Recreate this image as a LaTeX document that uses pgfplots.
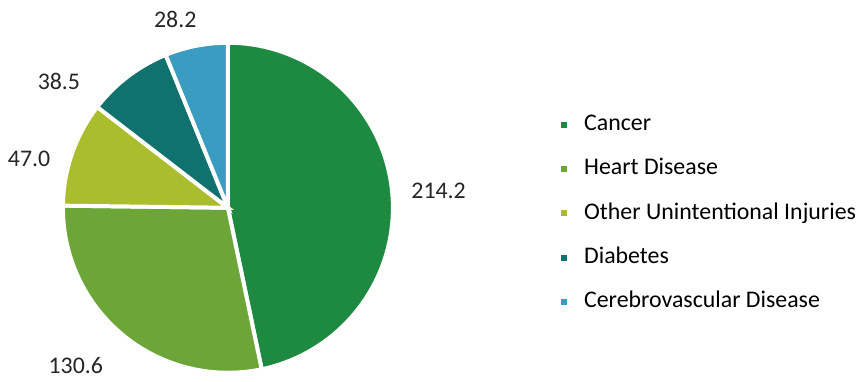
\documentclass[border=0pt]{standalone}
\usepackage{pgfplots}
\pgfplotsset{compat=1.18}
\usepackage{fontspec}
\setmainfont{Carlito}
\definecolor{cCancer}{RGB}{30,137,64}
\definecolor{cHeart}{RGB}{108,166,56}
\definecolor{cOther}{RGB}{170,190,45}
\definecolor{cDiab}{RGB}{16,114,110}
\definecolor{cCere}{RGB}{58,156,192}
\begin{document}
\fontsize{12}{14.4}\selectfont
\begin{tikzpicture}
% data values
\def\vA{214.2}\def\vB{130.6}\def\vC{47.0}\def\vD{38.5}\def\vE{28.2}
\pgfmathsetmacro\tot{\vA+\vB+\vC+\vD+\vE}
\pgfmathsetmacro\aA{90}
\pgfmathsetmacro\aB{\aA-360*(\vA/\tot)}
\pgfmathsetmacro\aC{\aB-360*(\vB/\tot)}
\pgfmathsetmacro\aD{\aC-360*(\vC/\tot)}
\pgfmathsetmacro\aE{\aD-360*(\vD/\tot)}
\pgfmathsetmacro\aF{\aE-360*(\vE/\tot)}
\def\cx{228}\def\cy{175}\def\rr{166}
\begin{axis}[
  scale only axis, width=432pt, height=192pt,
  xmin=0, xmax=864, ymin=0, ymax=384,
  hide axis, clip=false,
  legend cell align=left,
  legend style={at={(axis cs:553,276)}, anchor=north west, draw=none, fill=none,
    font=\fontsize{12}{14.4}\selectfont,
    nodes={text height=8.5pt, text depth=2.5pt, inner sep=1pt},
    row sep=9.3pt, column sep=5.5pt},
  legend image code/.code={\fill[#1] (0pt,-2.5pt) rectangle (5pt,2.5pt);},
]
\path (axis cs:0,0) rectangle (axis cs:864,384);
\addplot[fill=cCancer, draw=white, line width=2pt, domain=\aB:\aA, samples=80]
  ({\cx+\rr*cos(x)},{\cy+\rr*sin(x)}) -- (axis cs:\cx,\cy) -- cycle;
\addlegendentry{Cancer}
\addplot[fill=cHeart, draw=white, line width=2pt, domain=\aC:\aB, samples=60]
  ({\cx+\rr*cos(x)},{\cy+\rr*sin(x)}) -- (axis cs:\cx,\cy) -- cycle;
\addlegendentry{Heart Disease}
\addplot[fill=cOther, draw=white, line width=2pt, domain=\aD:\aC, samples=30]
  ({\cx+\rr*cos(x)},{\cy+\rr*sin(x)}) -- (axis cs:\cx,\cy) -- cycle;
\addlegendentry{Other Unintentional Injuries}
\addplot[fill=cDiab, draw=white, line width=2pt, domain=\aE:\aD, samples=30]
  ({\cx+\rr*cos(x)},{\cy+\rr*sin(x)}) -- (axis cs:\cx,\cy) -- cycle;
\addlegendentry{Diabetes}
\addplot[fill=cCere, draw=white, line width=2pt, domain=\aF:\aE, samples=30]
  ({\cx+\rr*cos(x)},{\cy+\rr*sin(x)}) -- (axis cs:\cx,\cy) -- cycle;
\addlegendentry{Cerebrovascular Disease}
\node[text=black!85] at (axis cs:440,192) {214.2};
\node[text=black!85] at (axis cs:75,16) {130.6};
\node[text=black!85] at (axis cs:28,224) {47.0};
\node[text=black!85] at (axis cs:58,302) {38.5};
\node[text=black!85] at (axis cs:175,364) {28.2};
\end{axis}
\end{tikzpicture}
\end{document}
